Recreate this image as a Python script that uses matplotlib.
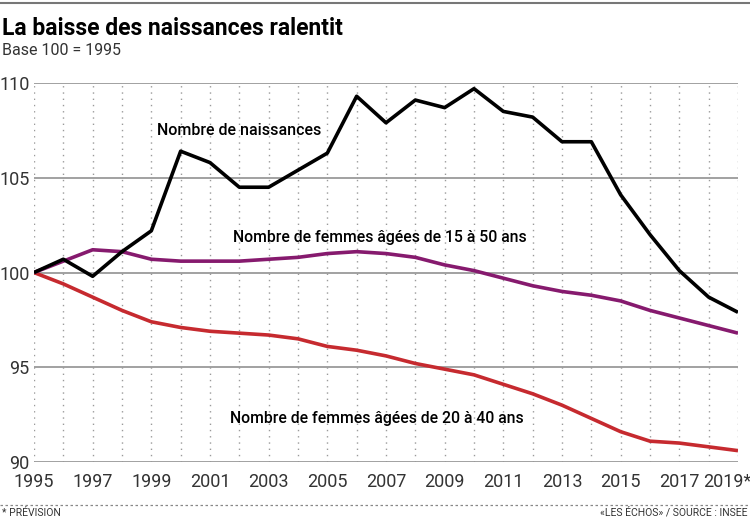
import matplotlib
matplotlib.use("Agg")
import matplotlib.pyplot as plt
from matplotlib.lines import Line2D
import matplotlib.transforms as mtrans

years = list(range(1995, 2020))
naissances = [100.0, 100.7, 99.8, 101.1, 102.2, 106.4, 105.8, 104.5, 104.5, 105.4,
              106.3, 109.3, 107.9, 109.1, 108.7, 109.7, 108.5, 108.2, 106.9, 106.9,
              104.1, 102.0, 100.1, 98.7, 97.9]
femmes_15_50 = [100.0, 100.6, 101.2, 101.1, 100.7, 100.6, 100.6, 100.6, 100.7, 100.8,
                101.0, 101.1, 101.0, 100.8, 100.4, 100.1, 99.7, 99.3, 99.0, 98.8,
                98.5, 98.0, 97.6, 97.2, 96.8]
femmes_20_40 = [100.0, 99.4, 98.7, 98.0, 97.4, 97.1, 96.9, 96.8, 96.7, 96.5,
                96.1, 95.9, 95.6, 95.2, 94.9, 94.6, 94.1, 93.6, 93.0, 92.3,
                91.6, 91.1, 91.0, 90.8, 90.6]
xtick_years = list(range(1995, 2020, 2))
xtick_labels = [str(y) for y in xtick_years[:-1]] + ["2019*"]
yticks = [90, 95, 100, 105, 110]

plt.rcParams['font.family'] = ['Roboto', 'DejaVu Sans']

fig = plt.figure(figsize=(7.5, 5.21), dpi=100)
ax = fig.add_axes([0.0453, 0.1132, 0.9387, 0.7275])

for y in years:
    ax.axvline(y, color='#9a9a9a', lw=1.0, ls=(0, (1, 3.5)), zorder=1)
for y in yticks:
    ax.axhline(y, color='#9a9a9a', lw=1.3, zorder=2)

ax.plot(years, femmes_20_40, color='#c62a2f', lw=2.6, zorder=3, solid_capstyle='butt')
ax.plot(years, femmes_15_50, color='#861a6e', lw=2.6, zorder=3, solid_capstyle='butt')
ax.plot(years, naissances, color='#000000', lw=2.6, zorder=4, solid_capstyle='butt')

ax.set_xlim(1995, 2019)
ax.set_ylim(90, 110)
for s in ax.spines.values():
    s.set_visible(False)
ax.set_yticks(yticks)
ax.set_yticklabels([str(v) for v in yticks], fontsize=13, color='#333333')
ax.set_xticks(xtick_years)
ax.set_xticklabels(xtick_labels, fontsize=13, color='#333333')
ax.tick_params(length=0)
ax.tick_params(axis='y', pad=3)
ax.tick_params(axis='x', pad=8)
lbls = ax.get_xticklabels()
lbls[-1].set_horizontalalignment('right')
lbls[-1].set_transform(lbls[-1].get_transform() + mtrans.ScaledTranslation(13/100, 0, fig.dpi_scale_trans))

ax.text(2002.0, 107.5, "Nombre de naissances", fontsize=11.5, fontweight='medium', ha='center', va='center')
ax.text(2006.8, 101.87, "Nombre de femmes âgées de 15 à 50 ans", fontsize=11.3, fontweight='medium', ha='center', va='center')
ax.text(2006.7, 92.3, "Nombre de femmes âgées de 20 à 40 ans", fontsize=11.3, fontweight='medium', ha='center', va='center')

fig.text(0.003, 0.945, "La baisse des naissances ralentit", fontsize=16.5, fontweight='bold', ha='left', va='center')
fig.text(0.003, 0.903, "Base 100 = 1995", fontsize=11.5, color='#333333', ha='left', va='center')

fig.add_artist(Line2D([0, 1], [0.994, 0.994], color='#777777', lw=1.5, transform=fig.transFigure))
fig.add_artist(Line2D([0, 1], [0.030, 0.030], color='#888888', lw=0.9, ls=(0, (2, 2)), transform=fig.transFigure))

fig.text(0.002, 0.006, "* PRÉVISION", fontsize=7.5, color='#333333', ha='left', va='bottom')
fig.text(0.997, 0.006, "«LES ÉCHOS» / SOURCE : INSEE", fontsize=7.5, color='#333333', ha='right', va='bottom')

fig.savefig("out.png", dpi=100)
